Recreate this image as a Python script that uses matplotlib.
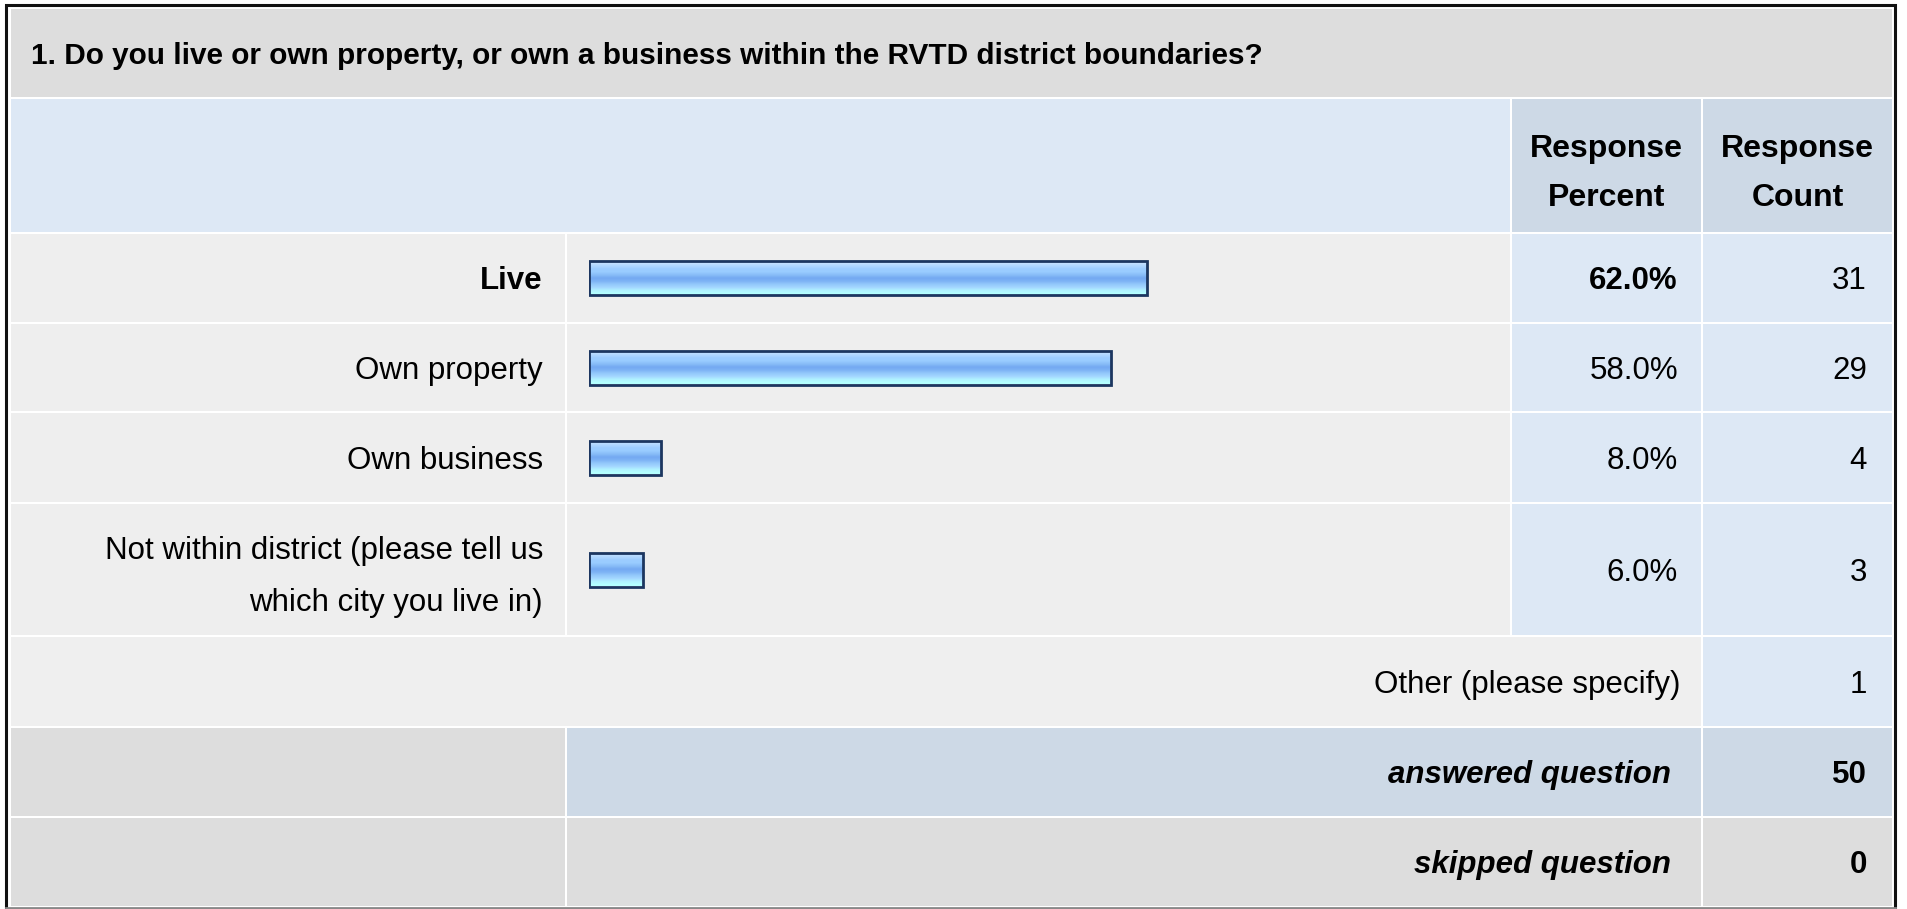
import numpy as np
import matplotlib
matplotlib.use("Agg")
import matplotlib.pyplot as plt
from matplotlib.patches import Rectangle
from matplotlib.colors import to_rgb

plt.rcParams['font.family'] = ['Liberation Sans', 'DejaVu Sans']

#survey data
question = "1. Do you live or own property, or own a business within the RVTD district boundaries?"
answers = ["Live", "Own property", "Own business",
           "Not within district (please tell us\nwhich city you live in)"]
percents = [62.0, 58.0, 8.0, 6.0]
counts = [31, 29, 4, 3]
other_label = "Other (please specify)"
other_count = 1
answered = 50
skipped = 0

#canvas in pixels
W, H = 1907, 909
#column edges (left, right) : label, bar, percent, count
col_label = (11, 565)
col_bar = (567, 1510)
col_pct = (1512, 1701)
col_cnt = (1703, 1892)
#row edges (top, bottom)
row_title = (9, 97)
row_head = (99, 232)
row_ans = [(234, 322), (324, 411), (413, 502), (504, 635)]
row_other = (637, 726)
row_answered = (728, 816)
row_skipped = (818, 906)

GRAY = "#dddddd"
LIGHT = "#eeeeee"
BLUE = "#dde8f5"
BLUE2 = "#cdd9e6"
BODY = 22.5

fig = plt.figure(figsize=(W / 100, H / 100), dpi=100)
fig.patch.set_facecolor("white")
ax = fig.add_axes([0, 0, 1, 1])
ax.set_xlim(0, W)
ax.set_ylim(H, 0)
ax.axis("off")

def cell(cols, rows, color):
    ax.add_patch(Rectangle((cols[0], rows[0]), cols[1] - cols[0], rows[1] - rows[0],
                           facecolor=color, edgecolor="none", zorder=1))

def text_in(cols, rows, s, ha="right", pad=22, size=BODY, weight="normal",
            style="normal", spacing=1.99):
    if ha == "right":
        x = cols[1] - pad
    elif ha == "left":
        x = cols[0] + pad
    else:
        x = (cols[0] + cols[1]) / 2.0
    nlines = s.count("\n") + 1
    em = size * 100 / 72.0
    mid = (rows[0] + rows[1]) / 2.0
    #baseline of last line so the cap-height block is centred (multi-line text sits a bit low)
    block = 0.716 * em + (nlines - 1) * spacing * 0.86 * em
    base = mid + block / 2.0 + (nlines - 1) * 4
    ax.text(x, base, s, ha=ha, va="baseline", fontsize=size, fontweight=weight,
            fontstyle=style, linespacing=spacing, multialignment=ha, zorder=5)

#title row
cell((col_label[0], col_cnt[1]), row_title, GRAY)
text_in((col_label[0], col_cnt[1]), row_title, question, ha="left", pad=20,
        size=21.4, weight="bold")

#header row
cell((col_label[0], col_bar[1]), row_head, BLUE)
cell(col_pct, row_head, BLUE2)
cell(col_cnt, row_head, BLUE2)
text_in(col_pct, row_head, "Response\nPercent", ha="center", size=23, weight="bold", spacing=1.8)
text_in(col_cnt, row_head, "Response\nCount", ha="center", size=23, weight="bold", spacing=1.8)

#answer rows
top = int(np.argmax(percents))
for i, lab in enumerate(answers):
    r = row_ans[i]
    cell(col_label, r, LIGHT)
    cell(col_bar, r, LIGHT)
    cell(col_pct, r, BLUE)
    cell(col_cnt, r, BLUE)
    w = "bold" if i == top else "normal"
    text_in(col_label, r, lab, weight=w)
    text_in(col_pct, r, "%.1f%%" % percents[i], weight=w, pad=23)
    text_in(col_cnt, r, str(counts[i]), pad=25)

#other row
cell((col_label[0], col_pct[1]), row_other, "#efefef")
cell(col_cnt, row_other, BLUE)
text_in((col_label[0], col_pct[1]), row_other, other_label, pad=20)
text_in(col_cnt, row_other, str(other_count), pad=25)

#totals
cell(col_label, row_answered, GRAY)
cell((col_bar[0], col_pct[1]), row_answered, BLUE2)
cell(col_cnt, row_answered, BLUE2)
text_in((col_bar[0], col_pct[1]), row_answered, "answered question", weight="bold", style="italic", pad=30)
text_in(col_cnt, row_answered, str(answered), weight="bold", pad=25)
cell(col_label, row_skipped, GRAY)
cell((col_bar[0], col_pct[1]), row_skipped, GRAY)
cell(col_cnt, row_skipped, GRAY)
text_in((col_bar[0], col_pct[1]), row_skipped, "skipped question", weight="bold", style="italic", pad=30)
text_in(col_cnt, row_skipped, str(skipped), weight="bold", pad=25)

#outer frame
ax.plot([6, 6, 1895, 1895], [907.5, 5, 5, 907.5], color="#111111", lw=2.2, zorder=6,
        solid_joinstyle="miter")
ax.plot([6, 1895], [907.5, 907.5], color="#888888", lw=2.0, zorder=6)

#bar axes: 0..100 % laid over the bar column
bar_x0, bar_span = 589, 900
axb = fig.add_axes([bar_x0 / W, 0, bar_span / W, 1])
axb.set_xlim(0, 100)
axb.set_ylim(H, 0)
axb.axis("off")
axb.patch.set_alpha(0)
ypos = [(r[0] + r[1]) / 2.0 for r in row_ans]
bars = axb.barh(ypos, percents, height=34, color="none", edgecolor="#1c3660",
                linewidth=2.0, zorder=4)

#glossy vertical gradient for each bar
stops = ["#c8e3ff", "#b2d8ff", "#9dcdff", "#99ccff", "#88bdf8", "#74a9f2",
         "#7db3f5", "#93c8fb", "#a3d6ff", "#b0f2ff", "#b4ffff"]
grad = np.array([to_rgb(c) for c in stops]).reshape(len(stops), 1, 3)
for b in bars:
    x0, y0 = b.get_x(), b.get_y()
    im = axb.imshow(grad, extent=[x0, x0 + b.get_width(), y0 + b.get_height(), y0],
                    aspect="auto", interpolation="bilinear", zorder=3)
    im.set_clip_path(b)
axb.set_xlim(0, 100)
axb.set_ylim(H, 0)

fig.savefig("out.png", dpi=100, facecolor="white")
